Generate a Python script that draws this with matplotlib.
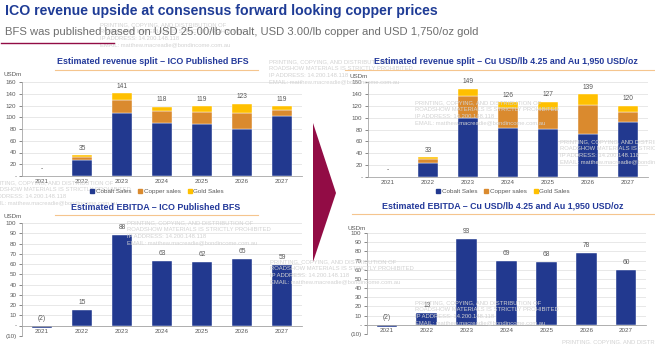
import matplotlib.pyplot as plt
from matplotlib.lines import Line2D
from matplotlib.patches import Polygon
from matplotlib.ticker import FuncFormatter, MultipleLocator

plt.rcParams['font.family'] = ['Liberation Sans', 'DejaVu Sans']

years = ['2021', '2022', '2023', '2024', '2025', '2026', '2027']

# ICO published BFS (USD 25.00/lb Co, USD 3.00/lb Cu, USD 1,750/oz Au)
bfs_cobalt = [0, 28, 108, 90, 88, 80, 102]
bfs_copper = [0, 4, 22, 21, 21, 27, 10]
bfs_gold = [0, 3, 11, 7, 10, 16, 7]
bfs_total = [0, 35, 141, 118, 119, 123, 119]
bfs_ebitda = [-2, 15, 88, 63, 62, 65, 59]

# Consensus pricing (Cu USD/lb 4.25, Au USD 1,950/oz)
cons_cobalt = [0, 24, 99, 83, 81, 73, 93]
cons_copper = [0, 6, 38, 34, 34, 49, 17]
cons_gold = [0, 3, 12, 9, 12, 17, 10]
cons_total = [0, 33, 149, 126, 127, 139, 120]
cons_ebitda = [-2, 13, 93, 69, 68, 78, 60]

legend_labels = ['Cobalt Sales', 'Copper sales', 'Gold Sales']

watermark = ('PRINTING, COPYING, AND DISTRIBUTION OF\n'
             'ROADSHOW MATERIALS IS STRICTLY PROHIBITED\n'
             'IP ADDRESS: 14.200.148.118\n'
             'EMAIL: matthew.macreadie@bondincome.com.au')

blue = '#22398F'
copper_col = '#DA8A2E'
gold_col = '#FFC000'
title_blue = '#23399A'
grey_text = '#595959'
axis_grey = '#A6A6A6'
grid_grey = '#E4E4E4'
line_orange = '#F5C58E'
arrow_red = '#920C45'

W, H = 655, 344


def box(x0, y0, x1, y1):
    # pixel box (top-left origin) -> figure fraction rect
    return [x0 / W, 1 - y1 / H, (x1 - x0) / W, (y1 - y0) / H]


def fmtTick(v, pos):
    if abs(v) < 1e-9:
        return '-'
    if v < 0:
        return '(%d)' % abs(v)
    return '%d' % v


def styleAxes(ax, ymin, ymax, step, usdm_xy):
    x = range(len(years))
    ax.set_xlim(-0.5, len(years) - 0.5)
    ax.set_ylim(ymin, ymax)
    ax.yaxis.set_major_locator(MultipleLocator(step))
    ax.yaxis.set_major_formatter(FuncFormatter(fmtTick))
    ax.set_xticks(list(x))
    ax.set_xticklabels(years)
    ax.grid(axis='y', color=grid_grey, linewidth=0.6)
    ax.set_axisbelow(True)
    for s in ['top', 'right']:
        ax.spines[s].set_visible(False)
    ax.spines['bottom'].set_position(('data', 0))
    for s in ['left', 'bottom']:
        ax.spines[s].set_color(axis_grey)
        ax.spines[s].set_linewidth(0.6)
    ax.tick_params(axis='y', labelsize=4.5, colors=grey_text, length=2, width=0.5, pad=2)
    ax.tick_params(axis='x', labelsize=4.5, colors=grey_text, length=0, pad=2)
    ax.set_facecolor('none')
    fig.text(usdm_xy[0] / W, 1 - usdm_xy[1] / H, 'USDm', fontsize=4.5,
             color=grey_text, ha='left', va='center')


def plotRevenue(rect, cobalt, copper, gold, total, width, usdm_xy):
    ax = fig.add_axes(rect)
    x = range(len(years))
    bot2 = [a + b for a, b in zip(cobalt, copper)]
    ax.bar(x, cobalt, width, color=blue, edgecolor='white', linewidth=0.3)
    ax.bar(x, copper, width, bottom=cobalt, color=copper_col, edgecolor='white', linewidth=0.3)
    ax.bar(x, gold, width, bottom=bot2, color=gold_col, edgecolor='white', linewidth=0.3)
    styleAxes(ax, 0, 160, 20, usdm_xy)
    for i, t in enumerate(total):
        ax.annotate(fmtTick(t, None), (i, t), xytext=(0, 2.5), textcoords='offset points',
                    ha='center', va='bottom', fontsize=4.8, color=grey_text)
    return ax


def plotEbitda(rect, values, width, usdm_xy):
    ax = fig.add_axes(rect)
    x = range(len(years))
    ax.bar(x, values, width, color=blue, edgecolor='white', linewidth=0.3)
    styleAxes(ax, -10, 100, 10, usdm_xy)
    for i, v in enumerate(values):
        ax.annotate(fmtTick(v, None), (i, max(v, 0)), xytext=(0, 3), textcoords='offset points',
                    ha='center', va='bottom', fontsize=4.8, color=grey_text)
    return ax


def panelTitle(text, xc, y, x0, x1, yline):
    fig.text(xc / W, 1 - y / H, text, fontsize=6.4, fontweight='bold', color=title_blue,
             ha='center', va='center')
    fig.add_artist(Line2D([x0 / W, x1 / W], [1 - yline / H, 1 - yline / H],
                          color=line_orange, linewidth=0.8))


def legendAt(xc, y):
    handles = [Line2D([], [], marker='s', linestyle='none', markersize=2.6, color=c)
               for c in [blue, copper_col, gold_col]]
    fig.legend(handles, legend_labels, loc='center', bbox_to_anchor=(xc / W, 1 - y / H),
               ncol=3, fontsize=4.5, frameon=False, handlelength=0.6, handletextpad=0.2,
               columnspacing=1.2, labelcolor=grey_text)


fig = plt.figure(figsize=(6.55, 3.44), dpi=100)
fig.patch.set_facecolor('white')

# faint distribution watermarks (beneath the header text)
for wx, wy in [(100, 22), (269, 59), (127, 220), (270, 259), (415, 100), (560, 139),
               (415, 300), (-13, 180), (562, 339)]:
    fig.text(wx / W, 1 - wy / H, watermark, fontsize=4.2, color='#D2D2D2', ha='left', va='top',
             linespacing=1.45, zorder=1)

# header
fig.text(5 / W, 1 - 11 / H, 'ICO revenue upside at consensus forward looking copper prices',
         fontsize=10.2, fontweight='bold', color='#1F3C96', ha='left', va='center', zorder=4)
fig.text(5 / W, 1 - 32 / H,
         'BFS was published based on USD 25.00/lb cobalt, USD 3.00/lb copper and USD 1,750/oz gold',
         fontsize=8.1, color='#6E6E6E', ha='left', va='center', zorder=4)
fig.add_artist(Line2D([1 / W, 114 / W], [1 - 43 / H, 1 - 43 / H], color=arrow_red, linewidth=1.0))

# charts
plotRevenue(box(22, 82, 302, 176), bfs_cobalt, bfs_copper, bfs_gold, bfs_total, 0.5, (4, 75))
plotEbitda(box(22, 223, 302, 336), bfs_ebitda, 0.5, (4, 216))
plotRevenue(box(368, 82, 648, 177), cons_cobalt, cons_copper, cons_gold, cons_total, 0.52, (349, 77))
plotEbitda(box(367, 233, 646, 334), cons_ebitda, 0.52, (348, 228))

panelTitle('Estimated revenue split \u2013 ICO Published BFS', 153, 62, 55, 258, 70)
panelTitle('Estimated EBITDA \u2013 ICO Published BFS', 156, 207, 55, 258, 215)
panelTitle('Estimated revenue split \u2013 Cu USD/lb 4.25 and Au 1,950 USD/oz', 506, 62, 345, 655, 70)
panelTitle('Estimated EBITDA \u2013 Cu USD/lb 4.25 and Au 1,950 USD/oz', 503, 206, 352, 655, 214)

legendAt(157, 191)
legendAt(503, 191)

# arrow between the two scenarios
fig.add_artist(Polygon([[313 / W, 1 - 123 / H], [336 / W, 1 - 193 / H], [313 / W, 1 - 262 / H]],
                       closed=True, facecolor=arrow_red, edgecolor='none', transform=fig.transFigure))

plt.savefig('out.png', dpi=100)
